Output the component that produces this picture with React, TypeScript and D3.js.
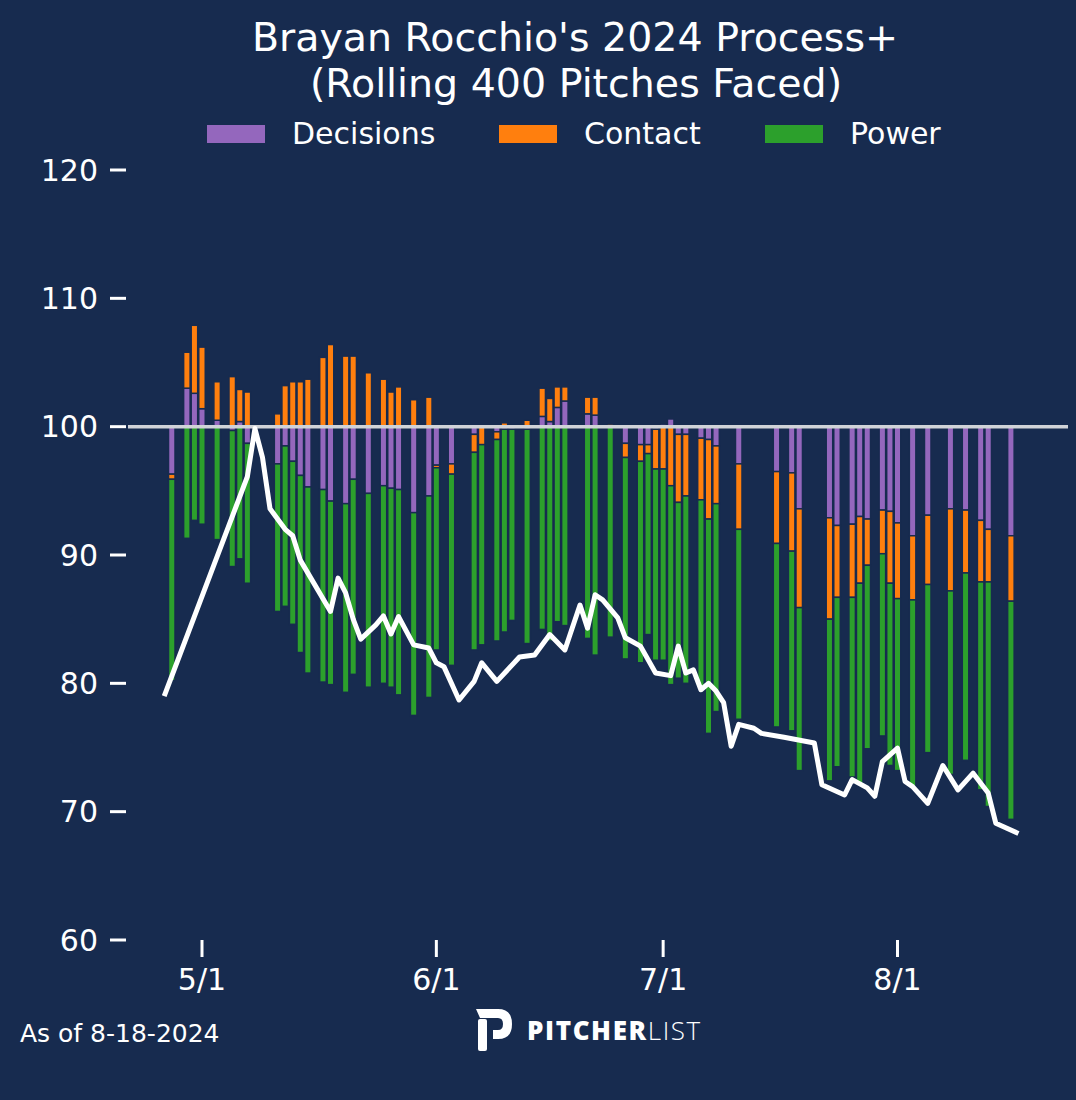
import React, { useRef, useEffect } from "react";
import * as d3 from "d3";

const BG = "#172b4f";
const FONT = "DejaVu Sans, sans-serif";

// game dates of each stacked bar
const barDates = [
  "2024-04-27", "2024-04-29", "2024-04-30", "2024-05-01", "2024-05-03", "2024-05-05", "2024-05-06", "2024-05-07",
  "2024-05-11", "2024-05-12", "2024-05-13", "2024-05-14", "2024-05-15", "2024-05-17", "2024-05-18", "2024-05-20",
  "2024-05-21", "2024-05-23", "2024-05-25", "2024-05-26", "2024-05-27", "2024-05-29", "2024-05-31", "2024-06-01",
  "2024-06-03", "2024-06-06", "2024-06-07", "2024-06-09", "2024-06-10", "2024-06-11", "2024-06-13", "2024-06-15",
  "2024-06-16", "2024-06-17", "2024-06-18", "2024-06-21", "2024-06-22", "2024-06-24", "2024-06-26", "2024-06-28",
  "2024-06-29", "2024-06-30", "2024-07-01", "2024-07-02", "2024-07-03", "2024-07-04", "2024-07-06", "2024-07-07",
  "2024-07-08", "2024-07-11", "2024-07-16", "2024-07-18", "2024-07-19", "2024-07-23", "2024-07-24", "2024-07-26",
  "2024-07-27", "2024-07-28", "2024-07-30", "2024-07-31", "2024-08-01", "2024-08-03", "2024-08-05", "2024-08-08",
  "2024-08-10", "2024-08-12", "2024-08-13", "2024-08-16",
];

// contributions relative to 100
const decisions = [
  -3.7, 3.0, 2.6, 1.4, 0.5, -0.3, 0.4, -1.3,
  -2.9, -1.5, -2.7, -3.8, -4.7, -4.9, -5.8, -6.0,
  -4.1, -5.2, -4.6, -4.8, -4.9, -6.7, -5.4, -3.0,
  -2.9, -0.6, 0, -0.4, -0.2, -0.2, -0.2, 0.8,
  0.4, 1.5, 2.0, 1.0, 0.9, 0, -1.3, -1.4,
  -1.4, -0.2, 0.2, 0.6, -0.6, -0.6, -0.9, -1.0,
  -1.5, -2.9, -3.5, -3.6, -6.4, -7.1, -7.7, -7.6,
  -7.0, -7.2, -6.5, -6.6, -7.5, -8.5, -6.9, -6.4,
  -6.5, -7.3, -8.0, -8.5,
];
const contact = [
  -0.4, 2.8, 5.3, 4.8, 3.0, 3.9, 2.5, 2.7,
  1.0, 3.2, 3.5, 3.5, 3.7, 5.4, 6.4, 5.5,
  5.5, 4.2, 3.7, 2.7, 3.1, 2.1, 2.3, -0.2,
  -0.8, -1.4, -1.4, -0.6, 0.3, 0.1, 0.5, 2.2,
  1.8, 1.6, 1.1, 1.3, 1.4, 0.2, -1.1, -1.3,
  -0.7, -3.1, -3.3, -4.6, -5.3, -4.8, -4.8, -6.2,
  -4.5, -5.1, -5.6, -6.1, -7.7, -7.9, -5.6, -5.7,
  -5.2, -3.6, -3.4, -5.6, -5.9, -5.0, -5.4, -6.4,
  -4.9, -4.8, -4.1, -5.1,
];
const power = [
  -15.7, -8.7, -7.3, -7.6, -8.8, -10.6, -10.3, -10.9,
  -11.5, -12.5, -12.7, -13.8, -14.5, -15.0, -14.3, -14.7,
  -15.2, -15.1, -15.4, -15.5, -16.0, -15.8, -15.7, -14.2,
  -14.9, -15.4, -15.6, -15.7, -15.8, -14.9, -16.7, -15.8,
  -16.7, -15.2, -15.5, -16.5, -17.8, -16.4, -15.7, -15.7,
  -14.1, -14.9, -14.9, -15.5, -13.7, -14.6, -14.6, -16.7,
  -16.2, -14.8, -14.3, -14.0, -12.7, -12.6, -13.2, -14.0,
  -15.6, -14.3, -14.2, -14.2, -13.4, -14.6, -13.1, -14.3,
  -14.6, -16.2, -17.5, -17.0,
];

// rolling Process+ line
const lineDates = [
  "2024-04-26", "2024-05-07", "2024-05-08", "2024-05-09", "2024-05-10", "2024-05-12", "2024-05-13", "2024-05-14",
  "2024-05-18", "2024-05-19", "2024-05-20", "2024-05-21", "2024-05-22", "2024-05-24", "2024-05-25", "2024-05-26",
  "2024-05-27", "2024-05-29", "2024-05-31", "2024-06-01", "2024-06-02", "2024-06-04", "2024-06-06", "2024-06-07",
  "2024-06-09", "2024-06-12", "2024-06-14", "2024-06-16", "2024-06-18", "2024-06-20", "2024-06-21", "2024-06-22",
  "2024-06-23", "2024-06-25", "2024-06-26", "2024-06-28", "2024-06-30", "2024-07-02", "2024-07-03", "2024-07-04",
  "2024-07-05", "2024-07-06", "2024-07-07", "2024-07-08", "2024-07-09", "2024-07-10", "2024-07-11", "2024-07-13",
  "2024-07-14", "2024-07-17", "2024-07-21", "2024-07-22", "2024-07-25", "2024-07-26", "2024-07-28", "2024-07-29",
  "2024-07-30", "2024-08-01", "2024-08-02", "2024-08-03", "2024-08-05", "2024-08-07", "2024-08-09", "2024-08-11",
  "2024-08-13", "2024-08-14", "2024-08-17",
];
const lineValues = [
  79.0, 96.1, 99.85, 97.6, 93.6, 92.0, 91.5, 89.6,
  85.6, 88.2, 87.05, 85.0, 83.45, 84.55, 85.25, 83.85,
  85.2, 83.0, 82.75, 81.6, 81.3, 78.7, 80.15, 81.6,
  80.15, 82.05, 82.2, 83.8, 82.6, 86.1, 84.3, 86.9,
  86.5, 85.1, 83.55, 82.9, 80.8, 80.6, 82.9, 80.8,
  81.05, 79.5, 80.0, 79.4, 78.5, 75.1, 76.8, 76.5,
  76.1, 75.8, 75.35, 72.1, 71.3, 72.5, 71.85, 71.2,
  73.9, 74.95, 72.35, 71.95, 70.65, 73.6, 71.7, 73.0,
  71.45, 69.1, 68.3,
];

const seriesNames = ["Decisions", "Contact", "Power"];
const seriesColors = ["#9467bd", "#ff7f0e", "#2ca02c"];
const yTicks = [60, 70, 80, 90, 100, 110, 120];
const xTickDates = ["2024-05-01", "2024-06-01", "2024-07-01", "2024-08-01"];

const W = 1076;
const H = 1100;

const App: React.FC = () => {
  const svgRef = useRef<SVGSVGElement | null>(null);

  useEffect(() => {
    if (!svgRef.current) return;
    const svg = d3.select(svgRef.current);
    svg.selectAll("*").remove();
    svg.style("font-family", FONT);

    svg.append("rect").attr("width", W).attr("height", H).attr("fill", BG);

    const parse = d3.timeParse("%Y-%m-%d");
    const x = d3
      .scaleTime()
      .domain([parse("2024-05-01")!, parse("2024-08-01")!])
      .range([202, 897.5]);
    const y = d3.scaleLinear().domain([60, 120]).range([940, 170]);
    const dayPx = x(parse("2024-05-02")!) - x(parse("2024-05-01")!);
    const barW = dayPx * 0.86;

    // stacked bars: positives stack up from 100, negatives stack down
    const series = [decisions, contact, power];
    const bars = svg.append("g");
    barDates.forEach((ds, i) => {
      const cx = x(parse(ds)!);
      let pos = 100;
      let neg = 100;
      series.forEach((vals, k) => {
        const v = vals[i];
        if (Math.abs(v) < 0.01) return;
        let y0: number, y1: number;
        if (v >= 0) {
          y0 = pos;
          y1 = pos + v;
          pos = y1;
        } else {
          y0 = neg;
          y1 = neg + v;
          neg = y1;
        }
        bars
          .append("rect")
          .attr("x", cx - barW / 2)
          .attr("y", y(Math.max(y0, y1)))
          .attr("width", barW)
          .attr("height", Math.abs(y(y0) - y(y1)))
          .attr("fill", seriesColors[k])
          .attr("stroke", BG)
          .attr("stroke-width", 1.5);
      });
    });

    // reference line at 100
    svg
      .append("line")
      .attr("x1", 128)
      .attr("x2", 1068)
      .attr("y1", y(100))
      .attr("y2", y(100))
      .attr("stroke", "#d0d3d8")
      .attr("stroke-width", 3.5);

    // rolling line
    const line = d3
      .line<number>()
      .x((_, i) => x(parse(lineDates[i])!))
      .y((d) => y(d));
    svg
      .append("path")
      .attr("d", line(lineValues))
      .attr("fill", "none")
      .attr("stroke", "white")
      .attr("stroke-width", 5)
      .attr("stroke-linejoin", "round")
      .attr("stroke-linecap", "butt");

    // y axis
    const ya = svg.append("g");
    yTicks.forEach((t) => {
      ya.append("line")
        .attr("x1", 110)
        .attr("x2", 126)
        .attr("y1", y(t))
        .attr("y2", y(t))
        .attr("stroke", "white")
        .attr("stroke-width", 3);
      ya.append("text")
        .attr("x", 98)
        .attr("y", y(t))
        .attr("dy", "0.36em")
        .attr("text-anchor", "end")
        .attr("fill", "white")
        .attr("font-size", 30)
        .text(t);
    });

    // x axis
    const fmt = d3.timeFormat("%-m/%-d");
    const xa = svg.append("g");
    xTickDates.forEach((ds) => {
      const d = parse(ds)!;
      xa.append("line")
        .attr("x1", x(d))
        .attr("x2", x(d))
        .attr("y1", 940)
        .attr("y2", 957)
        .attr("stroke", "white")
        .attr("stroke-width", 3);
      xa.append("text")
        .attr("x", x(d))
        .attr("y", 990)
        .attr("text-anchor", "middle")
        .attr("fill", "white")
        .attr("font-size", 30)
        .text(fmt(d));
    });

    // title
    svg
      .append("text")
      .attr("x", 575)
      .attr("y", 51)
      .attr("text-anchor", "middle")
      .attr("fill", "white")
      .attr("font-size", 39.5)
      .text("Brayan Rocchio's 2024 Process+");
    svg
      .append("text")
      .attr("x", 576)
      .attr("y", 97)
      .attr("text-anchor", "middle")
      .attr("fill", "white")
      .attr("font-size", 39.5)
      .text("(Rolling 400 Pitches Faced)");

    // legend
    const legendX = [207, 499, 765];
    seriesNames.forEach((name, k) => {
      svg
        .append("rect")
        .attr("x", legendX[k])
        .attr("y", 125)
        .attr("width", 58)
        .attr("height", 18)
        .attr("fill", seriesColors[k]);
      svg
        .append("text")
        .attr("x", legendX[k] + 85)
        .attr("y", 144)
        .attr("fill", "white")
        .attr("font-size", 30)
        .text(name);
    });

    // footer
    svg
      .append("text")
      .attr("x", 20)
      .attr("y", 1042)
      .attr("fill", "white")
      .attr("font-size", 25)
      .text("As of 8-18-2024");

    const logo = svg.append("g");
    logo
      .append("path")
      .attr(
        "d",
        "M476,1009 L498,1009 Q512,1009 512,1024 Q512,1039 498,1039 L493,1039 L493,1030 L498,1030 Q503,1030 503,1024 Q503,1018 498,1018 L480,1018 Z"
      )
      .attr("fill", "white");
    logo
      .append("rect")
      .attr("x", 478)
      .attr("y", 1019)
      .attr("width", 9)
      .attr("height", 32)
      .attr("rx", 2)
      .attr("fill", "white");
    const lt = logo
      .append("text")
      .attr("x", 527)
      .attr("y", 1040)
      .attr("fill", "white")
      .attr("font-size", 26)
      .attr("letter-spacing", 1.6)
      .attr("font-family", "Open Sans, sans-serif");
    lt.append("tspan").attr("font-weight", 800).text("PITCHER");
    lt.append("tspan").attr("font-weight", 300).text("LIST");
  }, []);

  return (
    <svg
      ref={svgRef}
      width={W}
      height={H}
      style={{ position: "absolute", left: 0, top: 0, display: "block" }}
    />
  );
};

export default App;
